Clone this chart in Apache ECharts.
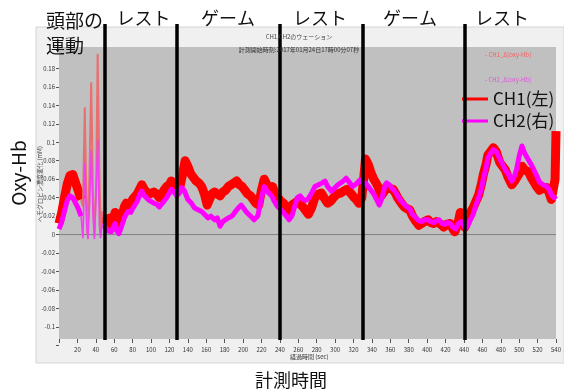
<!DOCTYPE html>
<html><head><meta charset="utf-8">
<script src="https://cdn.jsdelivr.net/npm/echarts@6/dist/echarts.min.js"></script>
<style>html,body{margin:0;padding:0;background:#fff}#c{width:564px;height:392px}</style>
</head><body><div id="c"></div>
<script>
// ---- data (time [sec], Δoxy-Hb) ----
const ch1Points = [
[0,.012],[3,.024],[6,.04],[9,.055],[12,.064],[15,.065],[18,.056],[21,.047],[24,.038],
[26,.03],[28,.138],[29.5,.05],[31,.0],[33,.06],[35,.165],[37,.04],[38.5,-.002],[40.5,.06],[42,.196],[44,.06],[45.5,.005],[47,.025],
[49,.02],[51,.015],[53,.012],[55,.018],[57,.01],[59,.016],[61,.024],[63,.012],[65,.008],[67,.016],[69,.022],[71,.03],[73,.034],[75,.036],[78,.032],[80,.038],[82,.04],[85,.044],[88,.05],[90,.054],[92,.05],[95,.046],[98,.044],[100,.042],[103,.046],[106,.044],[109,.04],[111,.042],[114,.048],[117,.052],[120,.054],[122,.058],[125,.054],[128,.05],
[131,.05],[134,.064],[137,.08],[140,.074],[143,.066],[146,.062],[149,.058],[152,.056],[155,.052],[158,.044],[161,.032],[163,.034],[166,.044],[169,.046],[172,.044],[175,.042],[178,.046],[181,.048],[184,.052],[187,.054],[190,.056],[193,.058],[196,.054],[199,.052],[202,.048],[205,.044],[208,.042],[211,.038],[214,.034],[217,.032],[220,.048],[223,.06],[226,.054],[229,.05],[232,.052],[235,.044],[238,.04],[241,.036],[244,.034],[247,.028],[250,.026],[253,.032],[256,.034],[259,.036],
[262,.033],[265,.03],[268,.026],[271,.022],[274,.028],[278,.04],[282,.044],[285,.045],[288,.04],[292,.034],[295,.036],[299,.041],[302,.044],[306,.045],[309,.047],[313,.049],[316,.046],[320,.041],[323,.038],[326,.034],[329,.04],[331,.06],[333,.082],[336,.076],[339,.067],[342,.06],[345,.055],[347,.051],[350,.042],[353,.046],[356,.052],[359,.05],[363,.049],[366,.044],[368,.04],[372,.034],[375,.03],[378,.028],[381,.027],[384,.02],[388,.014],[391,.01],[394,.012],[397,.014],[401,.016],[404,.013],[407,.012],[410,.014],[412,.015],[415,.011],[418,.008],[421,.011],[425,.012],[428,.006],[430,.003],[433,.01],[436,.024],[439,.018],[441,.008],
[444,.018],[447,.024],[450,.029],[453,.036],[456,.043],[459,.055],[461,.065],[464,.076],[466,.086],[469,.09],[472,.094],[475,.09],[479,.078],[482,.074],[485,.07],[488,.062],[492,.054],[495,.058],[497,.06],[500,.066],[503,.074],[506,.07],[510,.068],[513,.062],[516,.057],[519,.052],[522,.048],[526,.05],[530,.051],[533,.044],[535,.038],[537,.04],[539,.06],[540,.112]
];
const ch2Points = [
[0,.006],[3,.014],[6,.026],[9,.037],[12,.042],[15,.04],[18,.034],[21,.028],[24,.02],
[26,-.004],[28,.078],[30,.01],[31.5,-.005],[33.5,.04],[35,.092],[37,.02],[38.5,-.005],[40.5,.05],[42,.103],[44,.01],[45,-.004],[47,.012],
[49,.01],[51,.008],[53,.004],[55,.006],[57,.003],[59,.008],[61,.012],[63,.004],[65,.001],[67,.006],[69,.012],[71,.018],[73,.022],[75,.025],[78,.024],[80,.028],[82,.03],[85,.036],[88,.044],[90,.047],[92,.043],[95,.04],[98,.037],[100,.036],[103,.034],[106,.033],[109,.03],[111,.031],[114,.036],[117,.04],[120,.045],[122,.049],[125,.046],[128,.042],
[131,.045],[133,.051],[136,.048],[140,.038],[144,.034],[147,.029],[151,.027],[155,.025],[158,.022],[162,.018],[165,.02],[169,.016],[172,.018],[175,.009],[178,.014],[180,.016],[184,.018],[188,.02],[191,.024],[195,.029],[198,.032],[201,.028],[204,.024],[208,.02],[212,.016],[216,.02],[220,.04],[223,.052],[227,.046],[231,.042],[234,.036],[237,.031],[240,.028],[243,.025],[247,.02],[250,.016],[253,.02],[256,.03],[259,.04],
[262,.042],[265,.038],[268,.037],[271,.039],[275,.046],[278,.052],[282,.054],[286,.056],[289,.058],[292,.052],[296,.047],[299,.05],[303,.054],[306,.056],[309,.058],[312,.061],[316,.056],[319,.052],[323,.055],[327,.059],[330,.056],[333,.056],[336,.052],[339,.048],[342,.044],[345,.038],[348,.032],[351,.04],[354,.052],[356,.056],[359,.054],[362,.05],[365,.047],[368,.042],[372,.036],[375,.033],[378,.03],[381,.028],[384,.022],[388,.018],[391,.015],[394,.014],[397,.016],[401,.016],[404,.014],[407,.013],[410,.015],[413,.016],[416,.012],[419,.011],[422,.013],[425,.012],[428,.008],[431,.006],[434,.012],[437,.014],[441,.007],
[444,.009],[447,.016],[450,.022],[453,.032],[456,.04],[459,.05],[461,.06],[464,.072],[466,.083],[469,.088],[472,.092],[475,.09],[479,.082],[482,.076],[485,.07],[488,.066],[492,.058],[495,.064],[497,.07],[500,.085],[503,.096],[506,.088],[510,.081],[513,.076],[516,.07],[519,.064],[522,.057],[526,.054],[530,.052],[533,.048],[535,.043],[538,.04],[540,.042]
];
const movementRange = [24, 49];            // head-movement period (thin spikes)
const phaseBoundaries = [49.5, 127.7, 240, 330.5, 441];
const phaseLabels = ['レスト', 'ゲーム', 'レスト', 'ゲーム', 'レスト'];
const phaseLabelX = [143.5, 228, 320, 410, 502];
const seriesNames = ['CH1(左)', 'CH2(右)'];

// ---- helpers ----
function mainPart(pts){
  const out = [];
  pts.forEach(p => {
    if (p[0] <= movementRange[0] || p[0] >= movementRange[1]) out.push(p);
    if (p[0] === movementRange[0]) out.push([(movementRange[0]+movementRange[1])/2, null]);
  });
  return out;
}
function spikePart(pts){ return pts.filter(p => p[0] >= movementRange[0] && p[0] <= movementRange[1]); }

const FONT = 'Noto Sans CJK JP';
const chart = echarts.init(document.getElementById('c'), null, {renderer:'canvas'});

const titles = [
  {text:'頭部の\n運動', left:46, top:8, padding:0, textStyle:{fontSize:19, lineHeight:25, fontWeight:'normal', color:'#111', fontFamily:FONT}},
  ...phaseLabels.map((t,i)=>({text:t, left:phaseLabelX[i], top:9, padding:0, textAlign:'center',
     textStyle:{fontSize:18, fontWeight:'normal', color:'#111', fontFamily:FONT}})),
  {text:'CH1,CH2のウェーション', left:299, top:34, padding:0, textAlign:'center', textStyle:{fontSize:6, fontWeight:'normal', color:'#444', fontFamily:FONT}},
  {text:'計測開始時刻:2017年01月24日17時00分07秒', left:299, top:47, padding:0, textAlign:'center', textStyle:{fontSize:6, fontWeight:'normal', color:'#333', fontFamily:FONT}},
  {text:'- CH1_Δ[oxy-Hb]', left:485, top:52, padding:0, textStyle:{fontSize:6, fontWeight:'normal', color:'#ff5a5a', fontFamily:FONT}},
  {text:'- CH2_Δ[oxy-Hb]', left:485, top:77, padding:0, textStyle:{fontSize:6, fontWeight:'normal', color:'#e050e0', fontFamily:FONT}},
  {text:'経過時間 (sec)', left:290, top:354, padding:0, textStyle:{fontSize:6, fontWeight:'normal', color:'#333', fontFamily:FONT}},
  {text:'計測時間', left:291, top:371, padding:0, textAlign:'center', textStyle:{fontSize:18, fontWeight:'normal', color:'#111', fontFamily:FONT}}
];

const hiddenX = (g)=>({type:'value', gridIndex:g, min:0, max:540, show:false});
const hiddenY = (g,min,max)=>({type:'value', gridIndex:g, min:min, max:max, show:false});

const option = {
  backgroundColor:'#ffffff',
  animation:false,
  textStyle:{fontFamily:FONT},
  title: titles,
  legend:{
    data:seriesNames, orient:'vertical', left:462, top:89, padding:0,
    itemWidth:26, itemHeight:3, itemGap:2, icon:'rect',
    textStyle:{fontSize:17, lineHeight:20, color:'#111', fontFamily:FONT}
  },
  grid:[
    {left:36, top:27, right:0, bottom:29, show:true, backgroundColor:'#f0f0f0', borderColor:'#d4d4d4', borderWidth:1, z:0},
    {left:59, top:47, right:8, bottom:53, show:true, backgroundColor:'#c0c0c0', borderWidth:0, z:1},
    {left:59, top:50, right:8, bottom:46.7, show:false},
    {left:59, top:24, right:8, bottom:52, show:false}
  ],
  xAxis:[
    hiddenX(0),
    {type:'value', gridIndex:1, min:0, max:540, interval:20, z:3,
     axisLine:{show:false}, splitLine:{show:false},
     axisTick:{show:true, length:4, lineStyle:{color:'#555'}},
     axisLabel:{fontSize:6, color:'#333', margin:8, formatter:v=> v===0 ? '' : String(v)}},
    hiddenX(2),
    hiddenX(3)
  ],
  yAxis:[
    hiddenY(0,0,1),
    hiddenY(1,0,1),
    {type:'value', gridIndex:2, min:-0.12, max:0.2, interval:0.02, z:3,
     axisLine:{show:false}, splitLine:{show:false},
     axisTick:{show:true, length:3, lineStyle:{color:'#555'}},
     axisLabel:{fontSize:6, color:'#333', margin:4,
       formatter:v=>{ const r = Math.round(v*100)/100; return (r < -0.11 || r > 0.19) ? '' : String(r); }}},
    hiddenY(3,0,1)
  ],
  graphic:[
    {type:'text', x:19, y:173, rotation:Math.PI/2, z:10,
     style:{text:'Oxy-Hb', font:'19px "Noto Sans CJK JP"', fill:'#111', align:'center', verticalAlign:'middle'}},
    {type:'text', x:40, y:184, rotation:Math.PI/2, z:10,
     style:{text:'ヘモグロビン濃度変化 (mM)', font:'6px "Noto Sans CJK JP"', fill:'#444', align:'center', verticalAlign:'middle'}}
  ],
  series:[
    {name:seriesNames[0], type:'line', xAxisIndex:2, yAxisIndex:2, data:mainPart(ch1Points),
     showSymbol:false, symbol:'none', connectNulls:false, z:3,
     itemStyle:{color:'#ff0000'}, lineStyle:{color:'#ff0000', width:9, join:'round'}},
    {name:seriesNames[1], type:'line', xAxisIndex:2, yAxisIndex:2, data:mainPart(ch2Points),
     showSymbol:false, symbol:'none', connectNulls:false, z:4,
     itemStyle:{color:'#ff00ff'}, lineStyle:{color:'#ff00ff', width:5, join:'round'}},
    {name:seriesNames[0], type:'line', xAxisIndex:2, yAxisIndex:2, data:spikePart(ch1Points),
     showSymbol:false, symbol:'none', z:3,
     itemStyle:{color:'#ff0000'}, lineStyle:{color:'#e87070', width:2}},
    {name:seriesNames[1], type:'line', xAxisIndex:2, yAxisIndex:2, data:spikePart(ch2Points),
     showSymbol:false, symbol:'none', z:4,
     itemStyle:{color:'#ff00ff'}, lineStyle:{color:'#f040f0', width:1.6}},
    {name:'zero', type:'line', xAxisIndex:2, yAxisIndex:2, data:[[0,0],[540,0]],
     showSymbol:false, symbol:'none', z:2, silent:true,
     lineStyle:{color:'#808080', width:1}},
    {name:'phase', type:'line', xAxisIndex:3, yAxisIndex:3, data:[], z:6, silent:true,
     markLine:{silent:true, symbol:['none','none'], label:{show:false},
       lineStyle:{color:'#000', width:3.5, type:'solid'},
       data:phaseBoundaries.map(b=>({xAxis:b}))}}
  ]
};
chart.setOption(option);
</script></body></html>
